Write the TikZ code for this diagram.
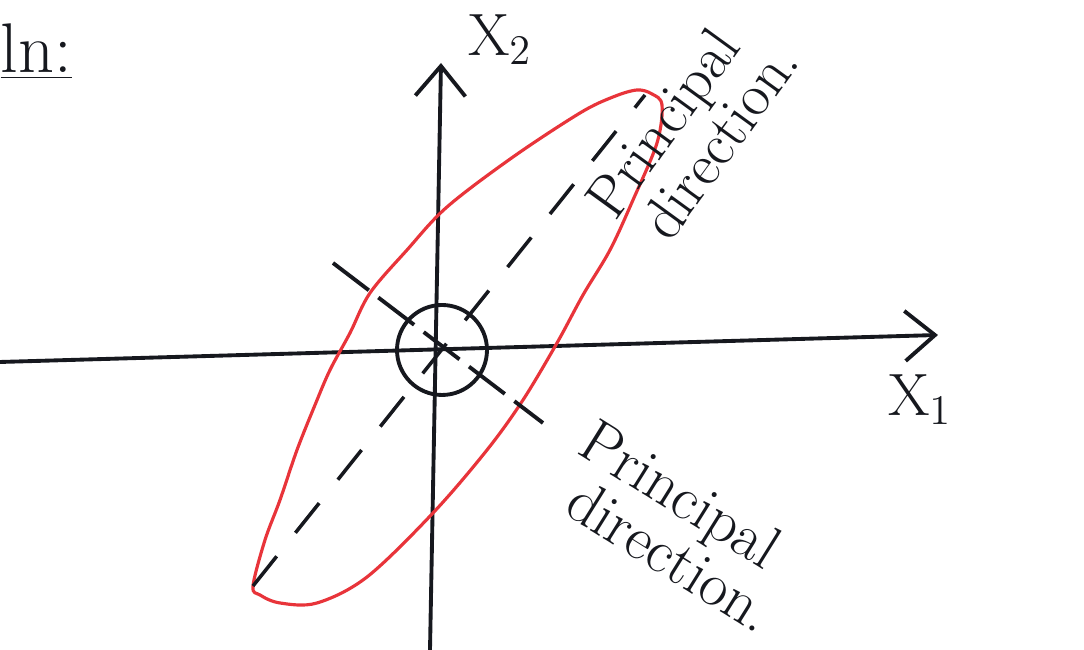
\documentclass[tikz,border=0pt]{standalone}
\usepackage{tikz}
\usetikzlibrary{positioning,arrows.meta,calc}
\usepackage{xcolor}
\definecolor{penred}{RGB}{232,52,58}
\definecolor{penink}{RGB}{22,24,30}

\begin{document}
\begin{tikzpicture}[>={Straight Barb[length=0.3cm, width=0.5cm]},
    axisline/.style={->, penink, line width=1.1pt},
    contour/.style={penred, line width=0.9pt},
    majoraxis/.style={penink, line width=1pt, dash pattern=on 0.38cm off 0.3cm},
    minoraxis/.style={penink, line width=1.1pt, dash pattern=on 0.45cm off 0.12cm},
    handlabel/.style={text=penink, inner sep=0pt}]
    \useasboundingbox (0,0) rectangle (10.84,6.5);

    % Heading (cut at the left edge)
    \node[handlabel, anchor=west, font=\fontsize{20}{22}\selectfont] (head) at (0,5.98) {\underline{ln:}};

    % Axes
    \coordinate (xstart) at (0,2.88);
    \coordinate (xend) at (9.38,3.15);
    \coordinate (ystart) at (4.30,0);
    \coordinate (yend) at (4.41,5.87);
    \draw[axisline] (xstart) -- (xend);
    \draw[axisline] (ystart) -- (yend);
    \node[handlabel, font=\fontsize{17}{19}\selectfont] (xone) at (9.20,2.50) {X$_1$};
    \node[handlabel, font=\fontsize{17}{19}\selectfont] (xtwo) at (5.00,6.10) {X$_2$};

    % Origin circle
    \coordinate (origin) at (4.42,3.00);
    \node[draw=penink, line width=1.1pt, circle, minimum size=0.9cm, inner sep=0pt] (ring) at (origin) {};

    % Contour of the quadratic form
    \draw[contour] plot[smooth cycle, tension=0.55] coordinates {
        (2.53,0.64) (2.65,1.10) (2.80,1.50) (2.97,2.00) (3.15,2.45) (3.30,2.80)
        (3.50,3.17) (3.70,3.57) (4.07,4.00) (4.47,4.43) (5.13,4.93) (5.80,5.37)
        (6.13,5.53) (6.37,5.60) (6.52,5.56) (6.62,5.45) (6.57,5.07) (6.33,4.50)
        (6.10,4.00) (5.83,3.55) (5.57,3.07) (5.23,2.50) (4.87,2.00) (4.33,1.37)
        (3.67,0.73) (3.17,0.47) (2.80,0.47) (2.60,0.55)};

    % Principal directions
    \coordinate (majlow) at (2.53,0.64);
    \coordinate (majhigh) at (6.45,5.55);
    \coordinate (minhigh) at (3.33,3.87);
    \coordinate (minlow) at (5.43,2.27);
    \draw[majoraxis] (majlow) -- (majhigh);
    \draw[minoraxis] (minhigh) -- (minlow);

    \node[handlabel, rotate=54, align=left, font=\fontsize{17}{15}\selectfont] (majlabel) at (6.92,5.20) {Principal\\ \hspace*{0.15cm}direction.};
    \node[handlabel, rotate=-32, align=left, font=\fontsize{17.5}{15.5}\selectfont] (minlabel) at (6.78,1.24) {Principal\\ \hspace*{0.2cm}direction.};
\end{tikzpicture}
\end{document}
